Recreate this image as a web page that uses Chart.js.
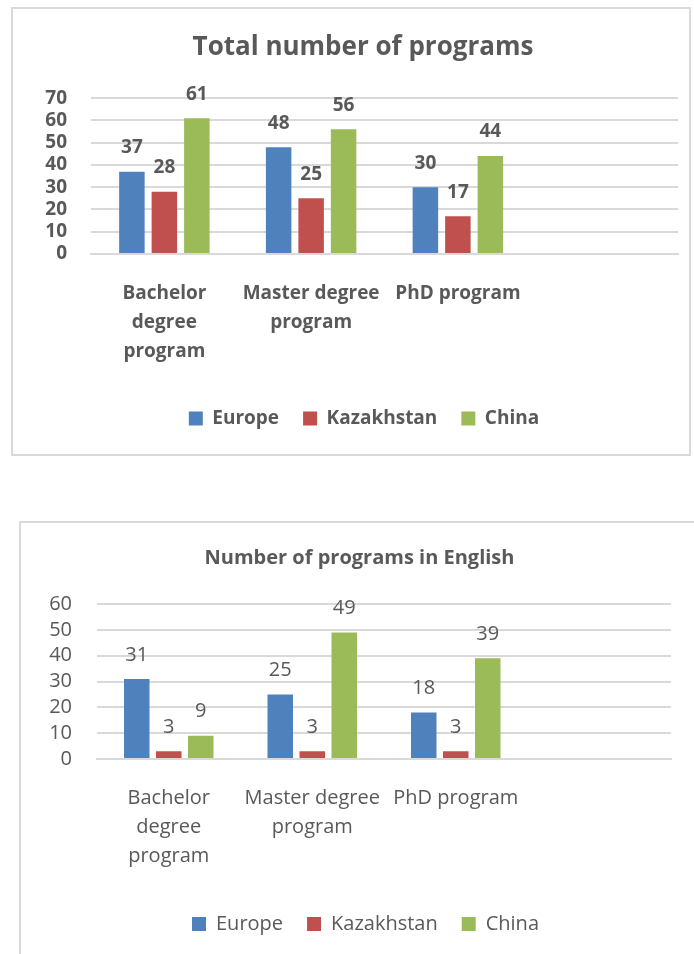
<!DOCTYPE html>
<html>
<head>
<meta charset="utf-8">
<script src="https://cdn.jsdelivr.net/npm/chart.js@4/dist/chart.umd.min.js"></script>
<style>
  html, body { margin: 0; padding: 0; background: #fff; overflow: hidden; }
  body { width: 694px; height: 954px; position: relative; }
  .box { position: absolute; border: 2px solid #d9d9d9; box-sizing: border-box; }
  canvas { position: absolute; left: 0; }
</style>
</head>
<body>
<div class="box" style="left:11px; top:7px; width:680px; height:449px;"></div>
<div class="box" style="left:19px; top:521px; width:700px; height:500px;"></div>
<canvas id="totalChart" width="694" height="448" style="top:0; width:694px; height:448px;"></canvas>
<canvas id="englishChart" width="694" height="454" style="top:500px; width:694px; height:454px;"></canvas>
<script>
// categories (4th slot is empty in the original)
var categories = [["Bachelor", "degree", "program"], ["Master degree", "program"], "PhD program", ""];
var seriesNames = ["Europe", "Kazakhstan", "China"];
var seriesColors = ["#4f81bd", "#c0504d", "#9bbb59"];

// Total number of programs
var europeTotal = [37, 48, 30];
var kazakhstanTotal = [28, 25, 17];
var chinaTotal = [61, 56, 44];

// Number of programs in English
var europeEnglish = [31, 25, 18];
var kazakhstanEnglish = [3, 3, 3];
var chinaEnglish = [9, 49, 39];

var textColor = "#595959";
var gridColor = "#d9d9d9";
var fontFamily = "'Open Sans', Lato, sans-serif";

// draws the value above each bar
var valueLabels = {
  id: 'valueLabels',
  afterDatasetsDraw: function(chart, args, opts) {
    var ctx = chart.ctx;
    ctx.save();
    ctx.font = opts.font;
    ctx.fillStyle = textColor;
    ctx.textAlign = 'center';
    ctx.textBaseline = 'middle';
    chart.data.datasets.forEach(function(ds, i) {
      chart.getDatasetMeta(i).data.forEach(function(bar, j) {
        if (ds.data[j] == null) return;
        ctx.fillText(ds.data[j], bar.x, bar.y - opts.offset);
      });
    });
    ctx.restore();
  }
};

// title and legend in the original sit a bit right of the canvas centre
var shiftBlocks = {
  id: 'shiftBlocks',
  afterLayout: function(chart, args, opts) {
    if (chart.titleBlock) {
      chart.titleBlock.left += opts.titleDx;
      chart.titleBlock.right += opts.titleDx;
    }
    if (chart.legend) {
      chart.legend.left += opts.legendDx;
      chart.legend.right += opts.legendDx;
    }
  }
};

function makeDatasets(values, catPct, barPct) {
  return values.map(function(v, i) {
    return {
      label: seriesNames[i],
      data: v,
      backgroundColor: seriesColors[i],
      borderWidth: 0,
      categoryPercentage: catPct,
      barPercentage: barPct
    };
  });
}

function makeChart(id, s) {
  var ctx = document.getElementById(id).getContext('2d');
  return new Chart(ctx, {
    type: 'bar',
    data: {
      labels: categories,
      datasets: makeDatasets(s.values, s.catPct, s.barPct)
    },
    plugins: [valueLabels, shiftBlocks],
    options: {
      responsive: false,
      animation: false,
      layout: { padding: { left: 0, right: s.padRight, top: 0, bottom: 10 } },
      plugins: {
        title: {
          display: true,
          text: s.title,
          color: textColor,
          font: { family: fontFamily, size: s.titleSize, weight: 'bold', lineHeight: 1.2 },
          padding: { top: s.titleTop, bottom: s.titleBottom }
        },
        legend: {
          position: 'bottom',
          labels: {
            color: textColor,
            boxWidth: 14,
            boxHeight: 14,
            padding: 24,
            font: { family: fontFamily, size: s.fontSize, weight: s.weight }
          }
        },
        tooltip: { enabled: false },
        shiftBlocks: { titleDx: s.titleShift, legendDx: s.legendShift },
        valueLabels: { font: s.weight + ' ' + s.fontSize + 'px ' + fontFamily, offset: 24 }
      },
      scales: {
        x: {
          grid: { display: false, drawTicks: false },
          border: { display: true, color: gridColor, width: 2 },
          ticks: {
            color: textColor,
            padding: 25,
            maxRotation: 0,
            autoSkip: false,
            font: { family: fontFamily, size: s.fontSize, weight: s.weight, lineHeight: '29px' }
          },
          afterFit: function(axis) { axis.height = s.xHeight; }
        },
        y: {
          min: 0,
          max: s.yMax,
          border: { display: false },
          grid: { color: gridColor, lineWidth: 2, drawTicks: false },
          ticks: {
            stepSize: 10,
            autoSkip: false,
            color: textColor,
            padding: s.tickPad,
            font: { family: fontFamily, size: s.fontSize, weight: s.weight }
          },
          afterFit: function(axis) { axis.width = s.yWidth; }
        }
      }
    }
  });
}

makeChart('totalChart', {
  title: 'Total number of programs',
  titleSize: 26, titleTop: 32, titleBottom: 35,
  values: [europeTotal, kazakhstanTotal, chinaTotal],
  catPct: 0.664, barPct: 0.785,
  weight: 'bold', fontSize: 19, yMax: 70,
  yWidth: 91, tickPad: 24, padRight: 16, xHeight: 131, titleShift: 24, legendShift: 25
});

makeChart('englishChart', {
  title: 'Number of programs in English',
  titleSize: 20, titleTop: 46, titleBottom: 34,
  values: [europeEnglish, kazakhstanEnglish, chinaEnglish],
  catPct: 0.669, barPct: 0.797,
  weight: 'normal', fontSize: 20, yMax: 60,
  yWidth: 97, tickPad: 25, padRight: 23, xHeight: 131, titleShift: 24, legendShift: 30
});
</script>
</body>
</html>
